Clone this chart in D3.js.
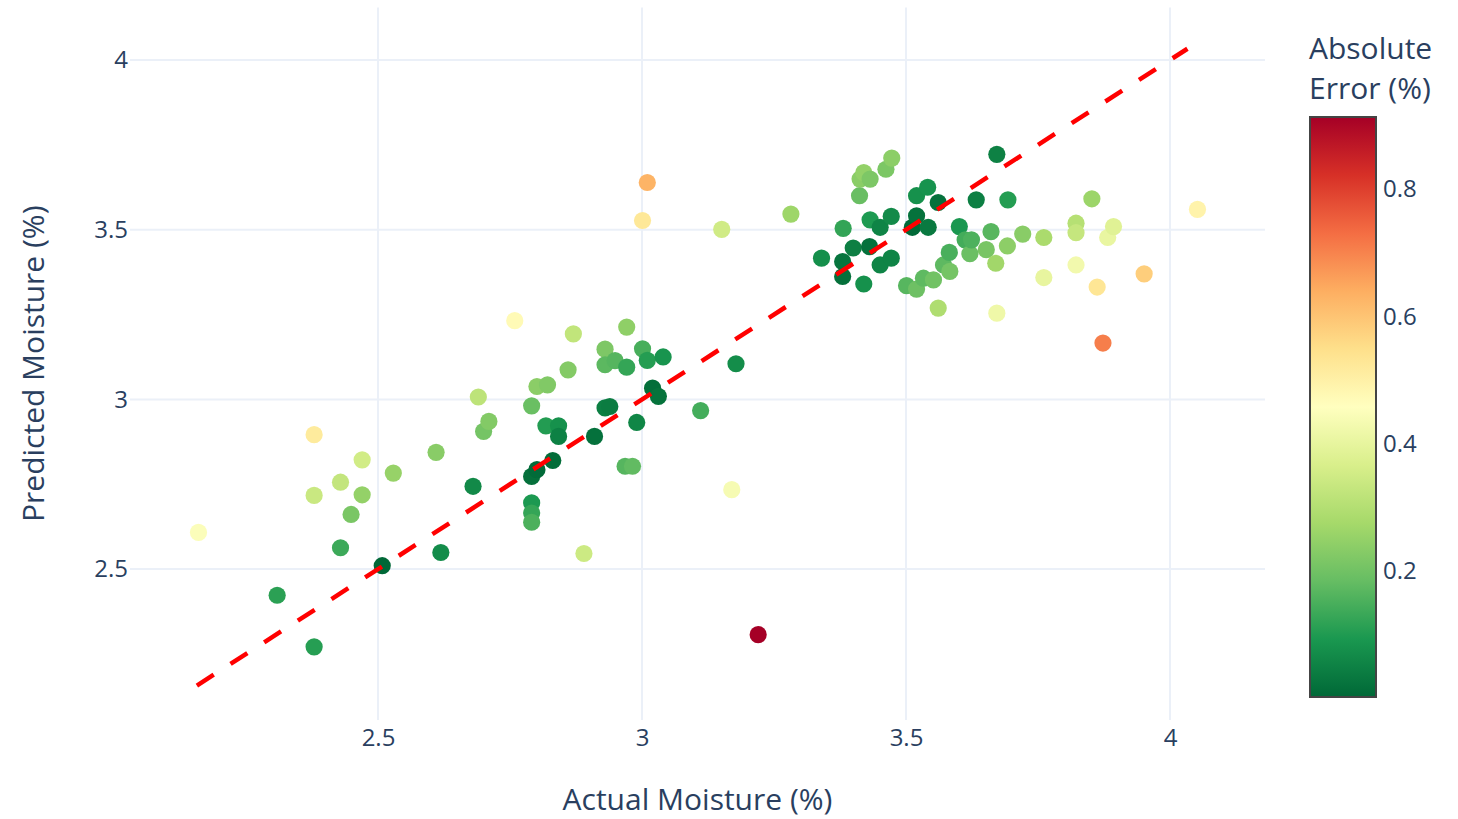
<!DOCTYPE html>
<html>
<head>
<meta charset="utf-8">
<script src="https://cdn.jsdelivr.net/npm/d3@7"></script>
<style>
  html, body { margin: 0; padding: 0; background: #fff; }
  svg { display: block; font-family: "Open Sans", "Noto Sans", sans-serif; }
</style>
</head>
<body>
<svg id="chart" width="1458" height="819"></svg>
<script>
// Measured vs. predicted moisture content (%)
const actual = [
  2.160, 2.309, 2.379, 2.379, 2.379, 2.429, 2.429, 2.449, 2.470, 2.470,
  2.508, 2.529, 2.619, 2.610, 2.680, 2.690, 2.700, 2.710, 2.759, 2.791,
  2.791, 2.801, 2.831, 2.791, 2.791, 2.791, 2.801, 2.821, 2.818, 2.842,
  2.842, 2.860, 2.870, 2.890, 2.910, 2.930, 2.939, 2.930, 2.930, 2.949,
  2.971, 2.971, 2.968, 2.982, 2.990, 3.001, 3.010, 3.020, 3.031, 3.040,
  3.111, 3.170, 3.178, 3.220, 3.001, 3.010, 3.151, 3.282,
  3.340, 3.380, 3.380, 3.381, 3.400, 3.412, 3.413, 3.420, 3.432, 3.420,
  3.431, 3.432, 3.451, 3.451, 3.462, 3.472, 3.472, 3.473, 3.501, 3.512,
  3.520, 3.520, 3.520, 3.533, 3.541, 3.542, 3.552, 3.561, 3.561, 3.571,
  3.582, 3.583, 3.601, 3.612, 3.621, 3.624, 3.633, 3.652, 3.661, 3.670,
  3.672, 3.672, 3.692, 3.693, 3.721, 3.761, 3.761, 3.822, 3.822, 3.822,
  3.852, 3.862, 3.873, 3.882, 3.893, 3.951, 4.052
];
const predicted = [
  2.608, 2.423, 2.271, 2.717, 2.896, 2.563, 2.756, 2.661, 2.719, 2.822,
  2.510, 2.783, 2.549, 2.844, 2.744, 3.007, 2.906, 2.935, 3.232, 2.981,
  2.773, 2.793, 2.820, 2.695, 2.665, 2.638, 3.038, 3.043, 2.922, 2.922,
  2.891, 3.087, 3.193, 2.546, 2.891, 2.975, 2.979, 3.148, 3.102, 3.114,
  3.095, 3.213, 2.803, 2.803, 2.932, 3.149, 3.115, 3.033, 3.009, 3.125,
  2.967, 2.734, 3.105, 2.307, 3.527, 3.639, 3.501, 3.546,
  3.416, 3.406, 3.362, 3.504, 3.446, 3.600, 3.649, 3.668, 3.649, 3.340,
  3.450, 3.529, 3.507, 3.396, 3.678, 3.539, 3.416, 3.711, 3.335, 3.507,
  3.541, 3.600, 3.325, 3.357, 3.625, 3.507, 3.352, 3.580, 3.269, 3.396,
  3.433, 3.377, 3.509, 3.470, 3.429, 3.470, 3.588, 3.441, 3.494, 3.401,
  3.722, 3.254, 3.452, 3.588, 3.487, 3.477, 3.359, 3.519, 3.491, 3.396,
  3.591, 3.331, 3.166, 3.477, 3.509, 3.370, 3.560
];

// Perfect-prediction reference line (y = x) endpoints
const idealLine = [2.157, 4.033];

// Axis ranges and ticks
const xRange = [2.0303, 4.1799];
const yRange = [2.0555, 4.1545];
const xTicks = [2.5, 3, 3.5, 4];
const yTicks = [2.5, 3, 3.5, 4];
const cbTicks = [0.2, 0.4, 0.6, 0.8];

// Reversed RdYlGn colour stops (low error = green)
const rdylgnStops = [
  "rgb(165,0,38)", "rgb(215,48,39)", "rgb(244,109,67)", "rgb(253,174,97)",
  "rgb(254,224,139)", "rgb(255,255,191)", "rgb(217,239,139)", "rgb(166,217,106)",
  "rgb(102,189,99)", "rgb(26,152,80)", "rgb(0,104,55)"
].reverse();

const points = actual.map((a, i) => ({
  actual: a,
  predicted: predicted[i],
  error: Math.abs(predicted[i] - a)
}));

const svg = d3.select("#chart");
const textColor = "#2a3f5f";
const gridColor = "#EBF0F8";
const tickFont = "24px";
const titleFont = "30px";

const plot = { left: 130, right: 1265, top: 7.5, bottom: 720 };

const x = d3.scaleLinear().domain(xRange).range([plot.left, plot.right]);
const y = d3.scaleLinear().domain(yRange).range([plot.bottom, plot.top]);

const errExtent = d3.extent(points, d => d.error);
const stopDomain = rdylgnStops.map((_, i) =>
  errExtent[0] + (errExtent[1] - errExtent[0]) * i / (rdylgnStops.length - 1));
const color = d3.scaleLinear().domain(stopDomain).range(rdylgnStops)
  .interpolate(d3.interpolateRgb).clamp(true);

// Grid lines
const grid = svg.append("g");
grid.selectAll("line.gx").data(xTicks).join("line")
  .attr("x1", d => x(d)).attr("x2", d => x(d))
  .attr("y1", plot.top).attr("y2", plot.bottom)
  .attr("stroke", gridColor).attr("stroke-width", 2);
grid.selectAll("line.gy").data(yTicks).join("line")
  .attr("x1", plot.left).attr("x2", plot.right)
  .attr("y1", d => y(d)).attr("y2", d => y(d))
  .attr("stroke", gridColor).attr("stroke-width", 2);

// Axes (labels only, no domain line or tick marks)
const xAxis = svg.append("g")
  .attr("transform", `translate(0,${plot.bottom})`)
  .call(d3.axisBottom(x).tickValues(xTicks).tickSize(0).tickPadding(9).tickFormat(d3.format("")));
const yAxis = svg.append("g")
  .attr("transform", `translate(${plot.left},0)`)
  .call(d3.axisLeft(y).tickValues(yTicks).tickSize(0).tickPadding(2).tickFormat(d3.format("")));
[xAxis, yAxis].forEach(g => {
  g.select(".domain").remove();
  g.selectAll("text").attr("fill", textColor).style("font-size", tickFont)
    .style("font-family", '"Open Sans", sans-serif');
});

// Points
svg.append("g").selectAll("circle").data(points).join("circle")
  .attr("cx", d => x(d.actual))
  .attr("cy", d => y(d.predicted))
  .attr("r", 8.6)
  .attr("fill", d => color(d.error));

// Ideal line
svg.append("line")
  .attr("x1", x(idealLine[0])).attr("y1", y(idealLine[0]))
  .attr("x2", x(idealLine[1])).attr("y2", y(idealLine[1]))
  .attr("stroke", "red").attr("stroke-width", 4.5)
  .attr("stroke-dasharray", "20,20");

// Axis titles
svg.append("text")
  .attr("x", (plot.left + plot.right) / 2).attr("y", 810)
  .attr("text-anchor", "middle").attr("fill", textColor)
  .style("font-size", titleFont).text("Actual Moisture (%)");
svg.append("text")
  .attr("transform", `translate(44,${(plot.top + plot.bottom) / 2}) rotate(-90)`)
  .attr("text-anchor", "middle").attr("fill", textColor)
  .style("font-size", titleFont).text("Predicted Moisture (%)");

// Colour bar
const cb = { x: 1310, w: 66, top: 117, bottom: 697 };
const defs = svg.append("defs");
const grad = defs.append("linearGradient").attr("id", "cbGrad")
  .attr("x1", 0).attr("y1", 1).attr("x2", 0).attr("y2", 0);
grad.selectAll("stop").data(rdylgnStops).join("stop")
  .attr("offset", (d, i) => i / (rdylgnStops.length - 1))
  .attr("stop-color", d => d);

svg.append("rect")
  .attr("x", cb.x).attr("y", cb.top)
  .attr("width", cb.w).attr("height", cb.bottom - cb.top)
  .attr("fill", "url(#cbGrad)")
  .attr("stroke", "#444").attr("stroke-width", 2);

const cbScale = d3.scaleLinear().domain(errExtent).range([cb.bottom, cb.top]);
svg.append("g").selectAll("text").data(cbTicks).join("text")
  .attr("x", cb.x + cb.w + 7)
  .attr("y", d => cbScale(d))
  .attr("dy", "0.35em")
  .attr("fill", textColor).style("font-size", tickFont)
  .text(d => d);

const cbTitle = svg.append("text").attr("fill", textColor).style("font-size", titleFont);
cbTitle.append("tspan").attr("x", 1309).attr("y", 59).text("Absolute");
cbTitle.append("tspan").attr("x", 1309).attr("y", 99).text("Error (%)");
</script>
</body>
</html>
